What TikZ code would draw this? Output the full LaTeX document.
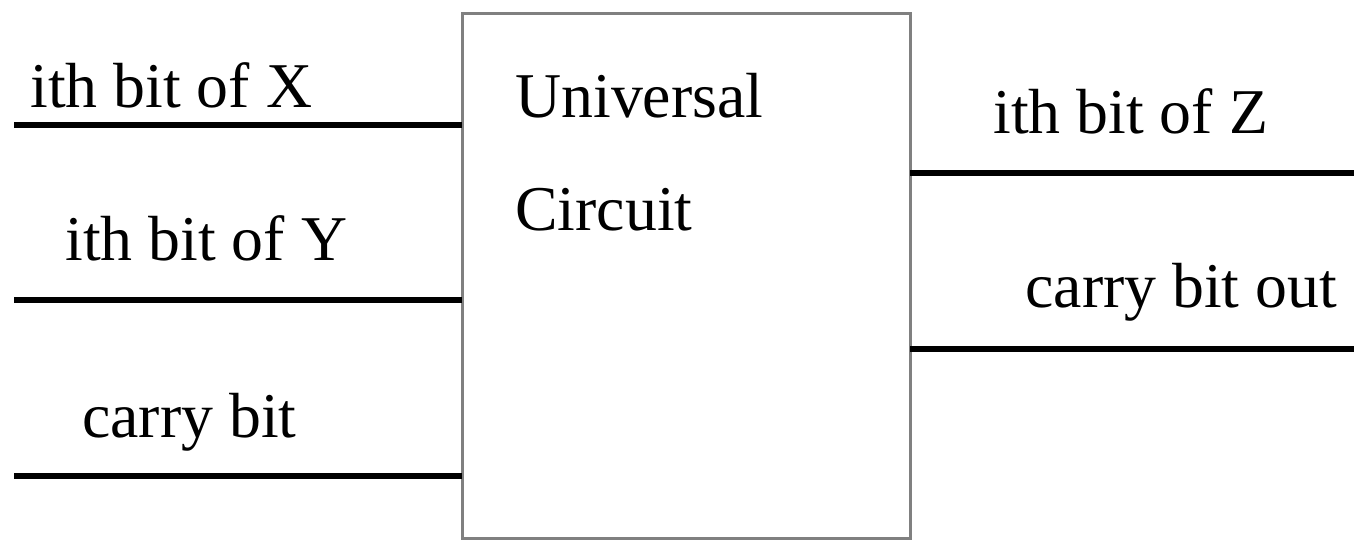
\documentclass[tikz,border=0pt]{standalone}
\usepackage{fontspec}
\setmainfont{Liberation Serif}
\begin{document}
\begin{tikzpicture}[x=0.02cm,y=-0.02cm,
  wire/.style={line width=3.8pt,black},
  boxst/.style={draw=gray,line width=1.7pt},
  lbl/.style={anchor=base west,inner sep=0pt,font=\fontsize{36.3pt}{42pt}\selectfont}]
\useasboundingbox (0,0) rectangle (1354,539);
\draw[boxst] (462,13) rectangle (910,538);
% wire endpoints
\coordinate (xa) at (14,125);  \coordinate (xb) at (462,125);
\coordinate (ya) at (14,300);  \coordinate (yb) at (462,300);
\coordinate (ca) at (14,476);  \coordinate (cb) at (462,476);
\coordinate (za) at (910,173); \coordinate (zb) at (1354,173);
\coordinate (oa) at (910,349); \coordinate (ob) at (1354,349);
\draw[wire] (xa) -- (xb);
\draw[wire] (ya) -- (yb);
\draw[wire] (ca) -- (cb);
\draw[wire] (za) -- (zb);
\draw[wire] (oa) -- (ob);
\node[lbl] (tx) at (30,107) {ith bit of X};
\node[lbl] (ty) at (65,260) {ith bit of Y};
\node[lbl] (tc) at (82,437) {carry bit};
\node[lbl] (tu) at (515,117) {Universal};
\node[lbl] (tci) at (515,230) {Circuit};
\node[lbl] (tz) at (993,133) {ith bit of Z};
\node[lbl] (to) at (1025,307) {carry bit out};
\end{tikzpicture}
\end{document}
